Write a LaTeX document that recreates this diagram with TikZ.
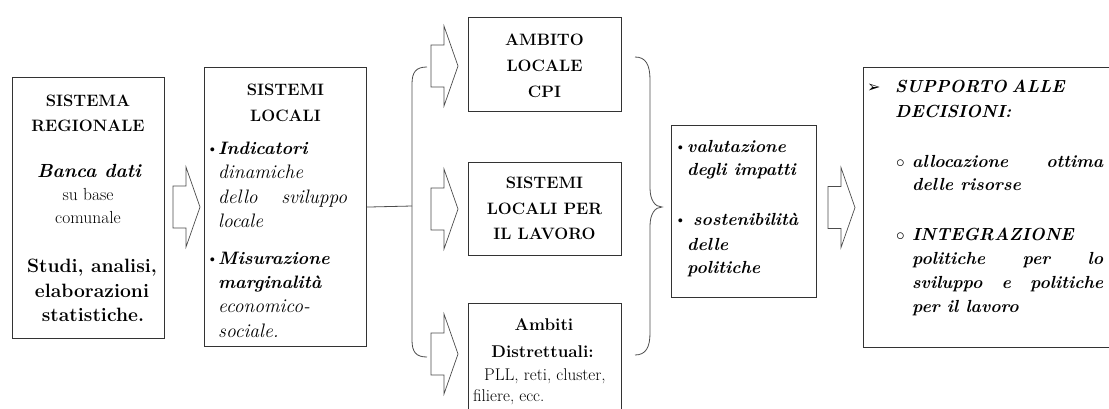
\documentclass[tikz,border=0pt]{standalone}
\usepackage{fontspec}
\setmainfont{Latin Modern Roman}
\newfontfamily\symfont{DejaVu Sans}
\newcommand\fHd{\fontsize{16.5}{20}\selectfont\bfseries}
\newcommand\fBd{\fontsize{19.3}{22}\selectfont\bfseries}
\newcommand\fBI{\fontsize{19}{22}\selectfont\bfseries\itshape}
\newcommand\fBIs{\fontsize{18}{22}\selectfont\bfseries\itshape}
\newcommand\fBIt{\fontsize{17.5}{22}\selectfont\bfseries\itshape}
\newcommand\fIt{\fontsize{19.5}{22}\selectfont\itshape}
\newcommand\fRm{\fontsize{17.5}{22}\selectfont}
\newcommand\fRs{\fontsize{17}{22}\selectfont}
\newcommand\fBm{\fontsize{17}{22}\selectfont\bfseries}
\newcommand\obul{{\fontsize{17}{17}\selectfont$\circ$}}
\tikzset{
  box/.style={draw=black!80, line width=1.1pt, inner sep=0pt, anchor=north west},
  barrow/.style={draw=black!70, line width=0.7pt, fill=white, line join=miter},
  brk/.style={draw=black!70, line width=0.8pt},
  tc/.style={inner sep=0pt, anchor=base},
  tl/.style={inner sep=0pt, anchor=base west},
  blockarr/.pic={\draw[barrow] (0,0) -- (-14,-40) -- (-14,-21) -- (-27,-21) -- (-27,21) -- (-14,21) -- (-14,40) -- cycle;}
}
\begin{document}
\begin{tikzpicture}[x=1pt,y=-1pt]
\useasboundingbox (0,0) rectangle (1109,408);
\clip (0,0) rectangle (1109,408);
% boxes
\node[box, minimum width=152pt, minimum height=261pt] (b1) at (12,77) {};
\node[box, minimum width=162pt, minimum height=279pt] (b2) at (204,67) {};
\node[box, minimum width=153pt, minimum height=94pt] (b3a) at (468,17) {};
\node[box, minimum width=153pt, minimum height=93pt] (b3b) at (468,162) {};
\node[box, minimum width=153pt, minimum height=125pt] (b3c) at (468,303) {};
\node[box, minimum width=145pt, minimum height=172pt] (b4) at (671,125) {};
\node[box, minimum width=260pt, minimum height=280pt] (b5) at (863,67) {};

% box 1 text
\node[tc, font=\fHd] (t1a) at (88,106) {SISTEMA};
\node[tc, font=\fHd] (t1b) at (88,131) {REGIONALE};
\node[tc, font=\fBI] (t1c) at (89,177) {Banca dati};
\node[tc, font=\fRm] (t1d) at (88,200) {su base};
\node[tc, font=\fRm] (t1e) at (88,223) {comunale};
\node[tc, font=\fBd] (t1f) at (92,272) {Studi, analisi,};
\node[tc, font=\fBd] (t1g) at (92,297) {elaborazioni};
\node[tc, font=\fBd] (t1h) at (93,321) {statistiche.};

% box 2 text
\node[tc, font=\fHd] (t2a) at (285.5,95) {SISTEMI};
\node[tc, font=\fHd] (t2b) at (285.5,121) {LOCALI};
\node[tl, font=\fRm] (t2u1) at (206,154) {\textbullet};
\node[tl, font=\fBIs] (t2c) at (218,154) {Indicatori};
\node[tl, font=\fIt] (t2d) at (218,178.5) {dinamiche};
\node[tl, font=\fIt] (t2e) at (218,203) {\makebox[129pt][s]{dello sviluppo}};
\node[tl, font=\fIt] (t2f) at (218,227.5) {locale};
\node[tl, font=\fRm] (t2u2) at (206,264) {\textbullet};
\node[tl, font=\fBIs] (t2g) at (218,264) {Misurazione};
\node[tl, font=\fBIs] (t2h) at (218,288) {marginalità};
\node[tl, font=\fIt] (t2i) at (218,312.5) {economico-};
\node[tl, font=\fIt] (t2j) at (218,337) {sociale.};

% box 3 texts
\node[tc, font=\fHd] (t3a) at (544.5,45) {AMBITO};
\node[tc, font=\fHd] (t3b) at (544.5,71) {LOCALE};
\node[tc, font=\fHd] (t3c) at (544.5,97) {CPI};
\node[tc, font=\fHd] (t3d) at (544.5,188) {SISTEMI};
\node[tc, font=\fHd] (t3e) at (544.5,214) {LOCALI PER};
\node[tc, font=\fHd] (t3f) at (544.5,239) {IL LAVORO};
\node[tc, font=\fBm] (t3g) at (544,330) {Ambiti};
\node[tc, font=\fBm] (t3h) at (542.5,357) {Distrettuali:};
\node[tl, font=\fRs] (t3i) at (484,380) {PLL, reti, cluster,};
\node[tl, font=\fRs] (t3j) at (473,401) {filiere, ecc.};

% box 4 text
\node[tl, font=\fRm] (t4u1) at (674,152) {\textbullet};
\node[tl, font=\fBIt] (t4a) at (687,152) {valutazione};
\node[tl, font=\fBIt] (t4b) at (687,175) {degli impatti};
\node[tl, font=\fRm] (t4u2) at (674,225) {\textbullet};
\node[tl, font=\fBIt] (t4c) at (693,225) {sostenibilità};
\node[tl, font=\fBIt] (t4d) at (687,250) {delle};
\node[tl, font=\fBIt] (t4e) at (687,273) {politiche};

% box 5 text
\node[tl, font=\fontsize{16}{16}\selectfont\symfont] (t5u) at (867,92) {➢};
\node[tl, font=\fBIt] (t5a) at (895,92) {\makebox[163pt][s]{SUPPORTO ALLE}};
\node[tl, font=\fBIt] (t5b) at (895,117) {DECISIONI:};
\node[tl] (t5u2) at (896,167) {\obul};
\node[tl, font=\fBIt] (t5c) at (912,167) {\makebox[191pt][s]{allocazione ottima}};
\node[tl, font=\fBIt] (t5d) at (912,190) {delle risorse};
\node[tl] (t5u3) at (896,240) {\obul};
\node[tl, font=\fBIt] (t5e) at (912,240) {INTEGRAZIONE};
\node[tl, font=\fBIt] (t5f) at (912,264) {\makebox[191pt][s]{politiche per lo}};
\node[tl, font=\fBIt] (t5g) at (912,288) {\makebox[191pt][s]{sviluppo e politiche}};
\node[tl, font=\fBIt] (t5h) at (912,312) {per il lavoro};

% block arrows
\pic at ([xshift=-4pt]b2.west) {blockarr};
\pic at (458,66) {blockarr};
\pic at ([xshift=-10pt]b3b.west) {blockarr};
\pic at (458,354) {blockarr};
\pic at ([xshift=-8pt]b5.west) {blockarr};

% left bracket
\coordinate (brL) at (412,206);
\coordinate (brLt) at (427,67);
\coordinate (brLb) at (427,357);
\draw[brk] (b2.east) -- (brL);
\draw[brk] (brLt) .. controls (416,67) and (412,72) .. (412,84) -- (412,340) .. controls (412,352) and (416,357) .. (brLb);

% right brace
\coordinate (brRt) at (635,57);
\coordinate (brRb) at (635,355);
\coordinate (brR) at (662,207);
\draw[brk] (brRt) .. controls (646,57) and (650,65) .. (650,80) -- (650,188) .. controls (650,200) and (655,207) .. (brR) .. controls (655,207) and (650,214) .. (650,226) -- (650,333) .. controls (650,347) and (646,355) .. (brRb);
\end{tikzpicture}
\end{document}
